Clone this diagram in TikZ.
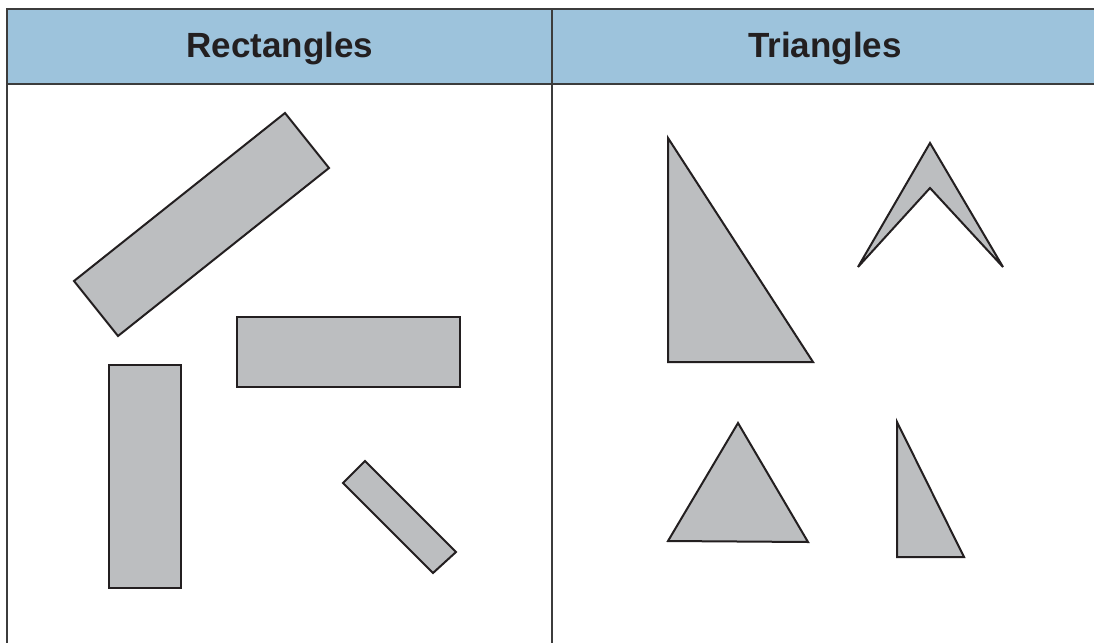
\documentclass[tikz,border=0pt]{standalone}
\usepackage{fontspec}
\setmainfont{Liberation Sans}
\definecolor{hdr}{RGB}{157,195,220}
\definecolor{shp}{RGB}{188,190,192}
\definecolor{ink}{RGB}{35,31,32}
\definecolor{rule}{RGB}{60,60,60}
\tikzset{
  figshape/.style={fill=shp, draw=ink, line width=2pt, line join=miter},
  title/.style={font=\bfseries\fontsize{35}{40}\selectfont, text=ink, anchor=base},
  tblline/.style={draw=rule, line width=1.5pt}
}
\begin{document}
\begin{tikzpicture}[x=1pt,y=-1pt]
\useasboundingbox (0,0) rectangle (1094,642);
\fill[white] (0,0) rectangle (1094,642);
% header
\fill[hdr] (7,9) rectangle (1100,84);
\draw[tblline] (1100,9) -- (7,9) -- (7,650);
\draw[tblline] (7,84) -- (1100,84);
\draw[tblline, line width=1.2pt] (552,9) -- (552,650);
\node[title] (rt) at (280,57) {Rectangles};
\node[title] (tt) at (825,57) {Triangles};
% rectangles
\draw[figshape] (285,113) -- (329,168) -- (118,336) -- (74,281) -- cycle;
\draw[figshape] (237,317) rectangle (460,387);
\draw[figshape] (109,365) rectangle (181,588);
\draw[figshape] (365,461) -- (456,552) -- (433,573) -- (343,483) -- cycle;
% triangles
\draw[figshape] (668,138) -- (813,362) -- (668,362) -- cycle;
\draw[figshape, miter limit=2] (930,143) -- (1003,267) -- (930,188) -- (858,267) -- cycle;
\draw[figshape] (738,423) -- (808,542) -- (668,541) -- cycle;
\draw[figshape] (897,422) -- (964,557) -- (897,557) -- cycle;
\end{tikzpicture}
\end{document}
